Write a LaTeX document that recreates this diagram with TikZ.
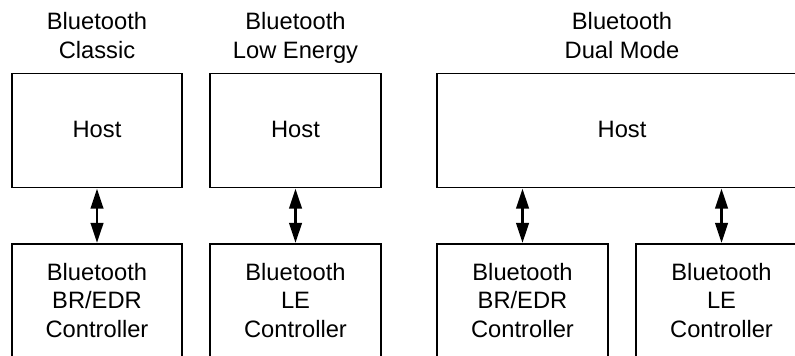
\documentclass[tikz,border=0pt]{standalone}
\usepackage{fontspec}
\setmainfont{Liberation Sans}
\usetikzlibrary{arrows.meta}
\begin{document}
\begin{tikzpicture}[x=1pt,y=-1pt,
  box/.style={draw=black,line width=1.3pt,inner sep=0pt,minimum width=170pt},
  hostbox/.style={box,minimum height=114pt},
  ctrlbox/.style={box,minimum height=140pt},
  txt/.style={font=\fontsize{23.7}{28.5}\selectfont,align=center,inner sep=0pt,anchor=base},
  link/.style={line width=2.4pt,{Triangle[length=20pt,width=12.5pt]}-{Triangle[length=20pt,width=12.5pt]},shorten <=0.4pt,shorten >=0.4pt}
]
\useasboundingbox (0,0) rectangle (795,356);
\clip (0,0) rectangle (795,356);
% titles
\node[txt] (t1) at (97,58) {Bluetooth\\Classic};
\node[txt] (t2) at (295.5,58) {Bluetooth\\Low Energy};
\node[txt] (t3) at (622,58) {Bluetooth\\Dual Mode};
% hosts
\node[hostbox] (h1) at (97,130.5) {};
\node[hostbox,minimum width=171pt] (h2) at (295.5,130.5) {};
\node[hostbox,minimum width=370pt] (h3) at (622,130.5) {};
\node[txt] (h1t) at (97,137) {Host};
\node[txt] (h2t) at (295.5,137) {Host};
\node[txt] (h3t) at (622,137) {Host};
% controllers
\node[ctrlbox] (c1) at (97,314) {};
\node[ctrlbox,minimum width=171pt] (c2) at (295.5,314) {};
\node[ctrlbox,minimum width=171pt] (c3) at (522.5,314) {};
\node[ctrlbox,minimum width=171pt] (c4) at (721.5,314) {};
\node[txt] (c1t) at (97,337) {Bluetooth\\BR/EDR\\Controller};
\node[txt] (c2t) at (295.5,337) {Bluetooth\\LE\\Controller};
\node[txt] (c3t) at (522.5,337) {Bluetooth\\BR/EDR\\Controller};
\node[txt] (c4t) at (721.5,337) {Bluetooth\\LE\\Controller};
% links
\draw[link] (h1.south) -- (c1.north);
\draw[link] (h2.south) -- (c2.north);
\draw[link] (h3.south -| c3.north) -- (c3.north);
\draw[link] (h3.south -| c4.north) -- (c4.north);
\end{tikzpicture}
\end{document}
